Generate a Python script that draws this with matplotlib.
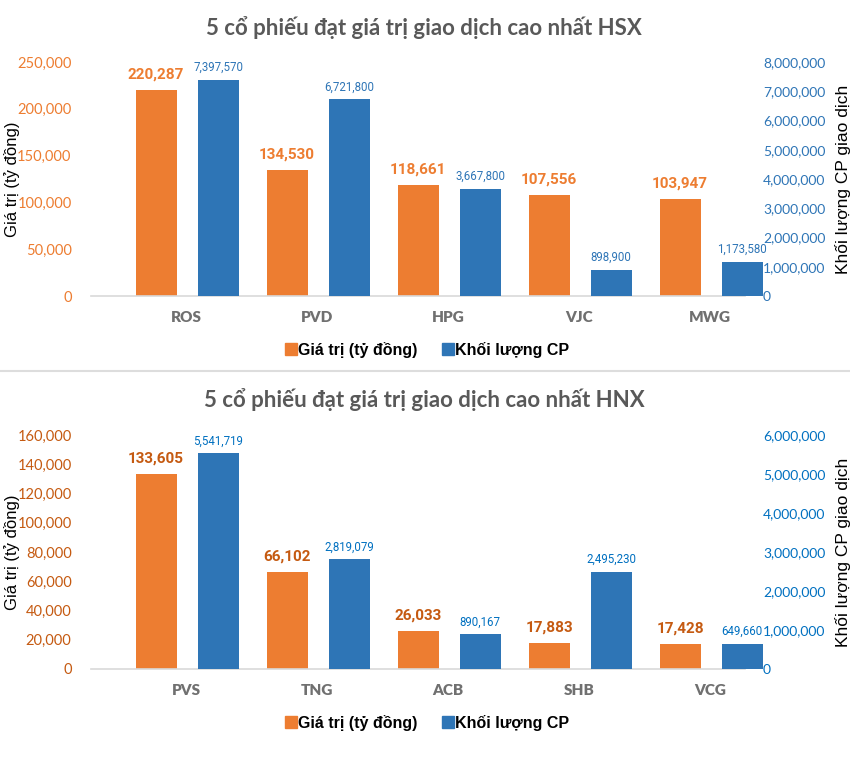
import matplotlib
matplotlib.use("Agg")
import matplotlib.pyplot as plt
from matplotlib.ticker import FuncFormatter, MultipleLocator
from matplotlib.lines import Line2D
import numpy as np

# ---------------- data ----------------
hsx_codes = ["ROS", "PVD", "HPG", "VJC", "MWG"]
hsx_value = [220287, 134530, 118661, 107556, 103947]          # Giá trị (tỷ đồng)
hsx_volume = [7397570, 6721800, 3667800, 898900, 1173580]     # Khối lượng CP

hnx_codes = ["PVS", "TNG", "ACB", "SHB", "VCG"]
hnx_value = [133605, 66102, 26033, 17883, 17428]
hnx_volume = [5541719, 2819079, 890167, 2495230, 649660]

title_hsx = "5 cổ phiếu đạt giá trị giao dịch cao nhất HSX"
title_hnx = "5 cổ phiếu đạt giá trị giao dịch cao nhất HNX"
left_label = "Giá trị (tỷ đồng)"
right_label = "Khối lượng CP giao dịch"
legend_labels = ["Giá trị (tỷ đồng)", "Khối lượng CP"]

# ---------------- style ----------------
ORANGE = "#ED7D31"
BLUE = "#2E75B6"
W, H = 850, 776
fig = plt.figure(figsize=(W / 100, H / 100), dpi=100)
fig.patch.set_facecolor("white")

fmt = FuncFormatter(lambda v, p: f"{v:,.0f}")
NARROW = ["Roboto", "DejaVu Sans"]
SANS = ["Liberation Sans", "DejaVu Sans"]
CAL = ["Lato", "DejaVu Sans"]


def panel(top_px, base_px, title, title_y, legend_y, codes, vals, vols, ymax, ystep,
          y2max, y2step, tick_col_l, tick_col_r, lab_col_o, lab_col_b):
    ax = fig.add_axes([91 / W, 1 - base_px / H, 654 / W, (base_px - top_px) / H])
    x = np.arange(len(codes))
    bw = 0.313
    ax.bar(x - 0.228, vals, width=bw, color=ORANGE, zorder=2, clip_on=False)
    ax.set_xlim(-0.725, 4.267)
    ax.set_ylim(0, ymax)
    ax.yaxis.set_major_locator(MultipleLocator(ystep))
    ax.yaxis.set_major_formatter(fmt)
    for s in ["top", "right", "left"]:
        ax.spines[s].set_visible(False)
    ax.spines["bottom"].set_color("#D9D9D9")
    ax.spines["bottom"].set_linewidth(1.2)
    ax.set_xticks(x)
    ax.set_xticklabels(codes, fontfamily=CAL, fontweight="heavy", fontsize=11,
                       color="#707070")
    ax.tick_params(axis="x", length=0, pad=11)
    ax.tick_params(axis="y", length=0, pad=14, labelsize=10.5, labelcolor=tick_col_l)
    for t in ax.get_yticklabels():
        t.set_fontfamily(CAL)
    ax.set_ylabel(left_label, fontfamily=SANS, fontsize=12, color="black", va="center")
    ax.yaxis.set_label_coords(-0.121, 0.5)

    ax2 = ax.twinx()
    ax2.bar(x + 0.245, vols, width=bw, color=BLUE, zorder=2, clip_on=False)
    ax2.set_ylim(0, y2max)
    ax2.yaxis.set_major_locator(MultipleLocator(y2step))
    ax2.yaxis.set_major_formatter(fmt)
    for s in ["top", "right", "left", "bottom"]:
        ax2.spines[s].set_visible(False)
    ax2.tick_params(axis="y", length=0, pad=13, labelsize=10, labelcolor=tick_col_r)
    for t in ax2.get_yticklabels():
        t.set_fontfamily(CAL)
    ax2.set_ylabel(right_label, fontfamily=SANS, fontsize=12.5, color="black",
                   rotation=90, va="center")
    ax2.yaxis.set_label_coords(1.150, 0.5)

    ax.bar_label(ax.containers[0], labels=[f"{v:,}" for v in vals], padding=6,
                 fontfamily=NARROW, fontweight="bold", fontsize=11, color=lab_col_o)
    ax2.bar_label(ax2.containers[0], labels=[f"{v:,}" for v in vols], padding=4,
                  fontfamily=NARROW, fontsize=8.3, color=lab_col_b)

    fig.text(424 / W, 1 - title_y / H, title,
             ha="center", va="center", fontfamily=CAL, fontweight="bold",
             fontsize=16, color="#595959")

    handles = [Line2D([], [], marker="s", linestyle="none", markersize=8,
                      markerfacecolor=ORANGE, markeredgecolor=ORANGE),
               Line2D([], [], marker="s", linestyle="none", markersize=8,
                      markerfacecolor=BLUE, markeredgecolor=BLUE)]
    fig.legend(handles, legend_labels, loc="center", ncol=2,
               bbox_to_anchor=(428 / W, 1 - legend_y / H), frameon=False,
               prop={"family": SANS, "weight": "bold", "size": 11.5},
               handlelength=0.6, handletextpad=0.15, columnspacing=1.6)
    return ax, ax2


panel(62, 296, title_hsx, 28, 350, hsx_codes, hsx_value, hsx_volume, 250000, 50000,
      8000000, 1000000, ORANGE, BLUE, ORANGE, BLUE)
panel(435, 669, title_hnx, 400, 723, hnx_codes, hnx_value, hnx_volume, 160000, 20000,
      6000000, 1000000, "#C55A11", "#0070C0", "#C55A11", "#0070C0")

# separator line between the two charts
fig.add_artist(Line2D([0, 1], [1 - 371 / H, 1 - 371 / H], transform=fig.transFigure,
                      color="#DDDDDD", linewidth=1.5))

fig.savefig("out.png", dpi=100, facecolor="white")
